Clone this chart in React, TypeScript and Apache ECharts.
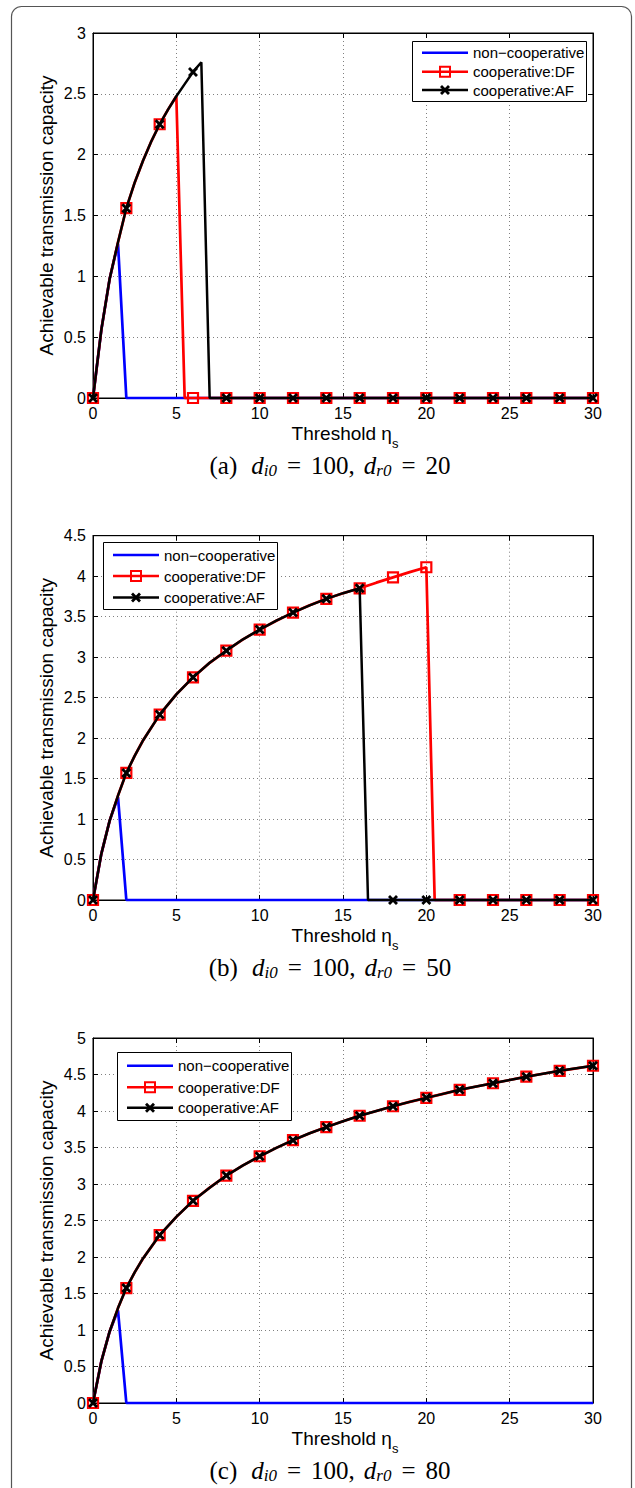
import React, { useEffect, useRef } from "react";
import * as echarts from "echarts";

// ---------------- data ----------------
const xMin = 0;
const xMax = 30;
const xInterval = 5;
const yInterval = 0.5;
const yMaxes = [3, 4.5, 5];
const seriesNames = ["non−cooperative", "cooperative:DF", "cooperative:AF"];
const captionTags = ["(a)", "(b)", "(c)"];
const di0Values = [100, 100, 100];
const dr0Values = [20, 50, 80];
const xTitle = "Threshold η";
const xTitleSub = "s";
const yTitle = "Achievable transmission capacity";

// (a) d_i0 = 100, d_r0 = 20
const xA = [0, 0.5, 1, 1.5, 2, 2.5, 3, 3.5, 4, 4.5, 5, 5.5, 6, 6.5, 7, 8, 10, 12, 14, 16, 18, 20, 22, 24, 26, 28, 30];
const nonCoopA = [0, 0.56, 0.98, 1.27, 0, 0, 0, 0, 0, 0, 0, 0, 0, 0, 0, 0, 0, 0, 0, 0, 0, 0, 0, 0, 0, 0, 0];
const dfA = [0, 0.56, 0.98, 1.28, 1.56, 1.77, 1.95, 2.11, 2.25, 2.37, 2.48, 0, 0, 0, 0, 0, 0, 0, 0, 0, 0, 0, 0, 0, 0, 0, 0];
const afA = [0, 0.56, 0.98, 1.28, 1.56, 1.77, 1.95, 2.11, 2.25, 2.37, 2.48, 2.58, 2.68, 2.76, 0, 0, 0, 0, 0, 0, 0, 0, 0, 0, 0, 0, 0];

// (b) d_i0 = 100, d_r0 = 50
const xB = [0, 0.5, 1, 1.5, 2, 2.5, 3, 4, 5, 6, 7, 8, 9, 10, 11, 12, 13, 14, 15, 16, 16.5, 17, 18, 19, 20, 20.5, 22, 24, 26, 28, 30];
const nonCoopB = [0, 0.57, 0.98, 1.27, 0, 0, 0, 0, 0, 0, 0, 0, 0, 0, 0, 0, 0, 0, 0, 0, 0, 0, 0, 0, 0, 0, 0, 0, 0, 0, 0];
const dfB = [0, 0.57, 0.98, 1.29, 1.57, 1.78, 1.97, 2.29, 2.54, 2.75, 2.93, 3.08, 3.22, 3.34, 3.45, 3.55, 3.64, 3.72, 3.79, 3.85, 3.885, 3.92, 3.985, 4.05, 4.11, 0, 0, 0, 0, 0, 0];
const afB = [0, 0.57, 0.98, 1.29, 1.57, 1.78, 1.97, 2.29, 2.54, 2.75, 2.93, 3.08, 3.22, 3.34, 3.45, 3.55, 3.64, 3.72, 3.79, 3.85, 0, 0, 0, 0, 0, 0, 0, 0, 0, 0, 0];

// (c) d_i0 = 100, d_r0 = 80
const xC = [0, 0.5, 1, 1.5, 2, 2.5, 3, 4, 5, 6, 7, 8, 9, 10, 11, 12, 13, 14, 15, 16, 17, 18, 19, 20, 21, 22, 23, 24, 25, 26, 27, 28, 29, 30];
const nonCoopC = [0, 0.57, 0.98, 1.27, 0, 0, 0, 0, 0, 0, 0, 0, 0, 0, 0, 0, 0, 0, 0, 0, 0, 0, 0, 0, 0, 0, 0, 0, 0, 0, 0, 0, 0, 0];
const dfC = [0, 0.57, 0.98, 1.3, 1.575, 1.79, 1.98, 2.3, 2.55, 2.77, 2.95, 3.115, 3.255, 3.38, 3.495, 3.6, 3.695, 3.78, 3.86, 3.935, 4.0, 4.065, 4.125, 4.18, 4.235, 4.29, 4.335, 4.38, 4.425, 4.47, 4.51, 4.55, 4.585, 4.62];
const afC = [0, 0.57, 0.98, 1.3, 1.575, 1.79, 1.98, 2.3, 2.55, 2.77, 2.95, 3.115, 3.255, 3.38, 3.495, 3.6, 3.695, 3.78, 3.86, 3.935, 4.0, 4.065, 4.125, 4.18, 4.235, 4.29, 4.335, 4.38, 4.425, 4.47, 4.51, 4.55, 4.585, 4.62];

const panels = [
  { xs: xA, non: nonCoopA, df: dfA, af: afA },
  { xs: xB, non: nonCoopB, df: dfB, af: afB },
  { xs: xC, non: nonCoopC, df: dfC, af: afC },
];

// ---------------- layout / style ----------------
const W = 635;
const H = 1488;
const SANS = "Liberation Sans";
const SERIF = "Liberation Serif";
const BLUE = "#0000ff";
const RED = "#ff0000";
const BLACK = "#000000";
const GRID_LEFT = 93;
const GRID_W = 500;
const gridTops = [33, 535.7, 1038];
const gridHeights = [365, 364.3, 365];
const legendBoxes = [
  { x: 412, y: 41, w: 174, h: 60, rows: [52.7, 71.7, 90] },
  { x: 103, y: 542, w: 174, h: 67, rows: [555, 576, 597.5] },
  { x: 117, y: 1052, w: 174, h: 68, rows: [1065.7, 1087.3, 1107.7] },
];
const X_PTS = [[2, 0], [5, 3], [8, 0], [10, 2], [7, 5], [10, 8], [8, 10], [5, 7], [2, 10], [0, 8], [3, 5], [0, 2]];
const X_SYMBOL = "path://M" + X_PTS.map((p) => p[0] + "," + p[1]).join("L") + "Z";

const isMarkerX = (x: number) => Number.isInteger(x) && x % 2 === 0;

function lineData(xs: number[], ys: number[], markers: boolean) {
  return xs.map((x, k) =>
    markers && isMarkerX(x) ? { value: [x, ys[k]] } : { value: [x, ys[k]], symbol: "none" }
  );
}

let measureCtx: CanvasRenderingContext2D | null = null;
function measure(text: string, size: number, family: string, italic: boolean) {
  if (!measureCtx) measureCtx = document.createElement("canvas").getContext("2d");
  if (!measureCtx) return text.length * size * 0.5;
  measureCtx.font = `${italic ? "italic " : ""}${size}px "${family}"`;
  return measureCtx.measureText(text).width;
}

type Seg = { t: string; size: number; italic?: boolean; dy?: number; gap?: number };
function composedText(segs: Seg[], cx: number, cy: number, family: string) {
  const widths = segs.map((s) => measure(s.t, s.size, family, !!s.italic));
  const total = widths.reduce((a, b) => a + b, 0) + segs.reduce((a, s) => a + (s.gap || 0), 0);
  let x = cx - total / 2;
  return segs.map((s, i) => {
    x += s.gap || 0;
    const el = {
      type: "text",
      x,
      y: cy + (s.dy || 0),
      z: 100,
      silent: true,
      style: {
        text: s.t,
        fontSize: s.size,
        fontFamily: family,
        fontStyle: s.italic ? "italic" : "normal",
        fill: "#000",
        textAlign: "left",
        textVerticalAlign: "middle",
        align: "left",
        verticalAlign: "middle",
      },
    };
    x += widths[i];
    return el;
  });
}

function legendGraphic(box: { x: number; y: number; w: number; h: number; rows: number[] }) {
  const els: any[] = [];
  els.push({
    type: "rect",
    z: 100,
    silent: true,
    shape: { x: box.x + 0.5, y: box.y + 0.5, width: box.w, height: box.h },
    style: { fill: "#fff", stroke: "#000", lineWidth: 1 },
  });
  const x1 = box.x + 10;
  const x2 = box.x + 56;
  const mid = (x1 + x2) / 2;
  const colors = [BLUE, RED, BLACK];
  box.rows.forEach((ry, i) => {
    els.push({
      type: "line",
      z: 101,
      silent: true,
      shape: { x1, y1: ry, x2, y2: ry },
      style: { stroke: colors[i], lineWidth: 2.5 },
    });
    if (i === 1) {
      els.push({
        type: "rect",
        z: 102,
        silent: true,
        shape: { x: mid - 5, y: ry - 5, width: 10, height: 10 },
        style: { fill: "none", stroke: RED, lineWidth: 2 },
      });
    }
    if (i === 2) {
      els.push({
        type: "polygon",
        z: 102,
        silent: true,
        shape: { points: X_PTS.map((p) => [mid - 5 + p[0], ry - 5 + p[1]]) },
        style: { fill: BLACK },
      });
    }
    els.push({
      type: "text",
      z: 102,
      silent: true,
      x: box.x + 61,
      y: ry,
      style: {
        text: seriesNames[i],
        fontSize: 15,
        fontFamily: SANS,
        fill: "#000",
        textAlign: "left",
        textVerticalAlign: "middle",
        align: "left",
        verticalAlign: "middle",
      },
    });
  });
  return els;
}

function buildOption() {
  const grid: any[] = [];
  const xAxis: any[] = [];
  const yAxis: any[] = [];
  const series: any[] = [];
  const graphic: any[] = [];

  graphic.push({
    type: "rect",
    z: 0,
    silent: true,
    shape: { x: 11.5, y: 6.5, width: 620, height: 1530, r: 10 },
    style: { fill: "none", stroke: "#555", lineWidth: 1.2 },
  });

  const tickCommon = { inside: true, length: 5, lineStyle: { color: "#000", width: 1 } };

  panels.forEach((p, i) => {
    const top = gridTops[i];
    const h = gridHeights[i];
    grid.push({ left: GRID_LEFT, top, width: GRID_W, height: h, show: true, borderColor: "#000", borderWidth: 1, backgroundColor: "#fff" });

    xAxis.push({
      gridIndex: i,
      type: "value",
      position: "bottom",
      min: xMin,
      max: xMax,
      interval: xInterval,
      axisLine: { show: true, onZero: false, lineStyle: { color: "#000", width: 1 } },
      axisTick: tickCommon,
      axisLabel: { show: true, fontSize: 16, fontFamily: SANS, color: "#000", margin: 7 },
      splitLine: { show: true, lineStyle: { color: "#808080", width: 1, type: [1, 3] } },
    });
    xAxis.push({
      gridIndex: i,
      type: "value",
      position: "top",
      min: xMin,
      max: xMax,
      interval: xInterval,
      axisLine: { show: true, onZero: false, lineStyle: { color: "#000", width: 1 } },
      axisTick: tickCommon,
      axisLabel: { show: false },
      splitLine: { show: false },
    });
    yAxis.push({
      gridIndex: i,
      type: "value",
      position: "left",
      min: 0,
      max: yMaxes[i],
      interval: yInterval,
      axisLine: { show: true, onZero: false, lineStyle: { color: "#000", width: 1 } },
      axisTick: tickCommon,
      axisLabel: { show: true, fontSize: 16, fontFamily: SANS, color: "#000", margin: 7 },
      splitLine: { show: true, lineStyle: { color: "#808080", width: 1, type: [1, 3] } },
    });
    yAxis.push({
      gridIndex: i,
      type: "value",
      position: "right",
      min: 0,
      max: yMaxes[i],
      interval: yInterval,
      axisLine: { show: true, onZero: false, lineStyle: { color: "#000", width: 1 } },
      axisTick: tickCommon,
      axisLabel: { show: false },
      splitLine: { show: false },
    });

    const xi = 2 * i;
    const yi = 2 * i;
    series.push({
      type: "line",
      name: seriesNames[0] + " " + captionTags[i],
      xAxisIndex: xi,
      yAxisIndex: yi,
      data: lineData(p.xs, p.non, false),
      symbol: "none",
      color: BLUE,
      lineStyle: { color: BLUE, width: 2.7 },
      clip: false,
      silent: true,
      z: 2,
    });
    series.push({
      type: "line",
      name: seriesNames[1] + " " + captionTags[i],
      xAxisIndex: xi,
      yAxisIndex: yi,
      data: lineData(p.xs, p.df, true),
      symbol: "rect",
      symbolSize: 10,
      showAllSymbol: true,
      color: RED,
      itemStyle: { color: "rgba(0,0,0,0)", borderColor: RED, borderWidth: 2.2 },
      lineStyle: { color: RED, width: 2.7 },
      clip: false,
      silent: true,
      z: 3,
    });
    series.push({
      type: "line",
      name: seriesNames[2] + " " + captionTags[i],
      xAxisIndex: xi,
      yAxisIndex: yi,
      data: lineData(p.xs, p.af, true),
      symbol: X_SYMBOL,
      symbolSize: 10,
      showAllSymbol: true,
      color: BLACK,
      itemStyle: { color: BLACK, borderWidth: 0 },
      lineStyle: { color: BLACK, width: 2.5 },
      clip: false,
      silent: true,
      z: 4,
    });

    // legend
    graphic.push(...legendGraphic(legendBoxes[i]));

    // y-axis title
    graphic.push({
      type: "text",
      z: 100,
      silent: true,
      x: 46,
      y: top + h / 2,
      rotation: Math.PI / 2,
      style: {
        text: yTitle,
        fontSize: 19,
        fontFamily: SANS,
        fill: "#000",
        textAlign: "center",
        textVerticalAlign: "middle",
        align: "center",
        verticalAlign: "middle",
      },
    });

    // x-axis title
    const bottom = top + h;
    graphic.push(
      ...composedText(
        [
          { t: xTitle, size: 19 },
          { t: xTitleSub, size: 13, dy: 10 },
        ],
        GRID_LEFT + GRID_W / 2 + 2,
        bottom + 35,
        SANS
      )
    );

    // caption
    graphic.push(
      ...composedText(
        [
          { t: captionTags[i], size: 25 },
          { t: "d", size: 25, italic: true, gap: 14 },
          { t: "i0", size: 17, italic: true, dy: 5 },
          { t: "=", size: 25, gap: 10 },
          { t: di0Values[i] + ",", size: 25, gap: 10 },
          { t: "d", size: 25, italic: true, gap: 9 },
          { t: "r0", size: 17, italic: true, dy: 5 },
          { t: "=", size: 25, gap: 10 },
          { t: String(dr0Values[i]), size: 25, gap: 10 },
        ],
        330,
        bottom + 67,
        SERIF
      )
    );
  });

  return {
    animation: false,
    backgroundColor: "#fff",
    grid,
    xAxis,
    yAxis,
    series,
    graphic: { elements: graphic },
  };
}

export default function App() {
  const ref = useRef<HTMLDivElement>(null);
  useEffect(() => {
    if (!ref.current) return;
    const chart = echarts.init(ref.current, undefined, { renderer: "svg", width: W, height: H });
    chart.setOption(buildOption() as any);
    return () => chart.dispose();
  }, []);
  return (
    <div
      ref={ref}
      style={{ position: "absolute", left: 0, top: 0, width: W, height: H, background: "#fff" }}
    />
  );
}
